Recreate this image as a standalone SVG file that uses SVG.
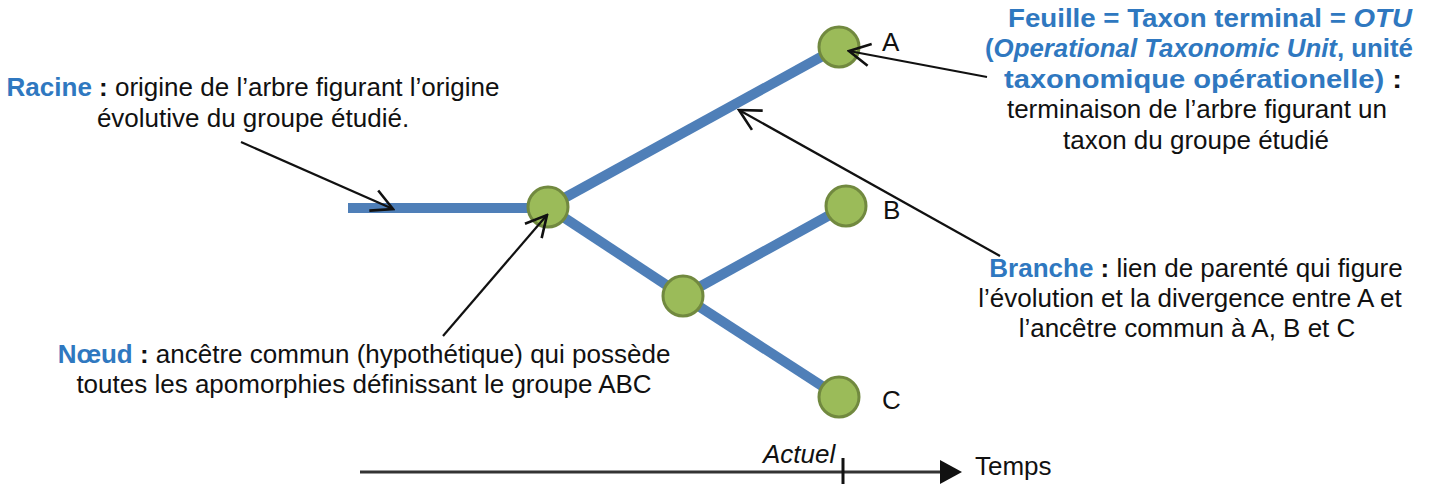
<svg xmlns="http://www.w3.org/2000/svg" width="1430" height="484" viewBox="0 0 1430 484">
  <style>
    text { font-family: "Liberation Sans", Arial, sans-serif; font-size: 26px; fill: #111; }
    .c { text-anchor: middle; }
    .kw { fill: #2f78c0; font-weight: bold; }
    .b { font-weight: bold; }
    .i { font-style: italic; }
    .branch { stroke: #4f7fb8; stroke-width: 10; fill: none; }
    .node circle { fill: #9bbb59; stroke: #71893f; stroke-width: 3; }
    .ptr { stroke: #111; stroke-width: 2.2; fill: none; marker-end: url(#open); }
    .leaf { font-size: 26px; }
  </style>
  <defs>
    <marker id="open" viewBox="0 0 26 26" refX="24" refY="13" markerWidth="26" markerHeight="26" markerUnits="userSpaceOnUse" orient="auto">
      <path d="M3,2 L24,13 L3,24" fill="none" stroke="#111" stroke-width="2.6"/>
    </marker>
    <marker id="solid" viewBox="0 0 22 24" refX="2" refY="12" markerWidth="22" markerHeight="24" markerUnits="userSpaceOnUse" orient="auto">
      <path d="M0,0 L22,12 L0,24 Z" fill="#111"/>
    </marker>
  </defs>

  <!-- tree branches -->
  <g id="branches">
    <line class="branch" x1="348" y1="208" x2="548" y2="208"/>
    <line class="branch" x1="548" y1="207" x2="839" y2="47"/>
    <line class="branch" x1="548" y1="207" x2="683" y2="296"/>
    <line class="branch" x1="683" y1="296" x2="846" y2="206"/>
    <line class="branch" x1="683" y1="296" x2="839" y2="397"/>
  </g>

  <!-- nodes -->
  <g id="node-root" class="node"><circle cx="548" cy="207" r="20"/></g>
  <g id="node-bc" class="node"><circle cx="683" cy="296" r="20"/></g>
  <g id="leaf-a" class="node"><circle cx="839" cy="47" r="20"/><text class="leaf" x="882" y="51">A</text></g>
  <g id="leaf-b" class="node"><circle cx="846" cy="206" r="20"/><text class="leaf" x="883" y="219">B</text></g>
  <g id="leaf-c" class="node"><circle cx="839" cy="397" r="20"/><text class="leaf" x="882" y="409">C</text></g>

  <!-- pointer connectors -->
  <g id="connectors">
    <line class="ptr" x1="241" y1="142" x2="393" y2="209"/>
    <line class="ptr" x1="443" y1="336" x2="547" y2="215"/>
    <line class="ptr" x1="987" y1="77" x2="849" y2="51"/>
    <line class="ptr" x1="1000" y1="256" x2="739" y2="110"/>
  </g>

  <!-- annotations -->
  <g id="label-racine">
    <text class="c" x="253" y="96"><tspan class="kw">Racine</tspan><tspan class="b"> :</tspan> origine de l’arbre figurant l’origine</text>
    <text class="c" x="253" y="127">évolutive du groupe étudié.</text>
  </g>
  <g id="label-noeud">
    <text class="c" x="364" y="363"><tspan class="kw">Nœud</tspan><tspan class="b"> :</tspan> ancêtre commun (hypothétique) qui possède</text>
    <text class="c" x="364" y="393">toutes les apomorphies définissant le groupe ABC</text>
  </g>
  <g id="label-feuille">
    <text class="c kw" x="1210" y="27" textLength="404" lengthAdjust="spacingAndGlyphs">Feuille = Taxon terminal = <tspan class="i">OTU</tspan></text>
    <text class="c kw" x="1199" y="57" textLength="428" lengthAdjust="spacingAndGlyphs">(<tspan class="i">Operational Taxonomic Unit</tspan>, unité</text>
    <text class="c kw" x="1203" y="88" textLength="398" lengthAdjust="spacingAndGlyphs">taxonomique opérationelle) <tspan fill="#111">:</tspan></text>
    <text class="c" x="1197" y="118">terminaison de l’arbre figurant un</text>
    <text class="c" x="1196" y="149">taxon du groupe étudié</text>
  </g>
  <g id="label-branche">
    <text class="c" x="1196" y="277"><tspan class="kw">Branche</tspan><tspan class="b"> :</tspan> lien de parenté qui figure</text>
    <text class="c" x="1190" y="307">l’évolution et la divergence entre A et</text>
    <text class="c" x="1187" y="337">l’ancêtre commun à A, B et C</text>
  </g>

  <!-- time axis -->
  <g id="time-axis">
    <line x1="360" y1="472" x2="942" y2="472" stroke="#333" stroke-width="3" marker-end="url(#solid)"/>
    <line x1="843" y1="458" x2="843" y2="484" stroke="#111" stroke-width="3"/>
    <text class="i" x="763" y="463">Actuel</text>
    <text x="975" y="475">Temps</text>
  </g>
</svg>
